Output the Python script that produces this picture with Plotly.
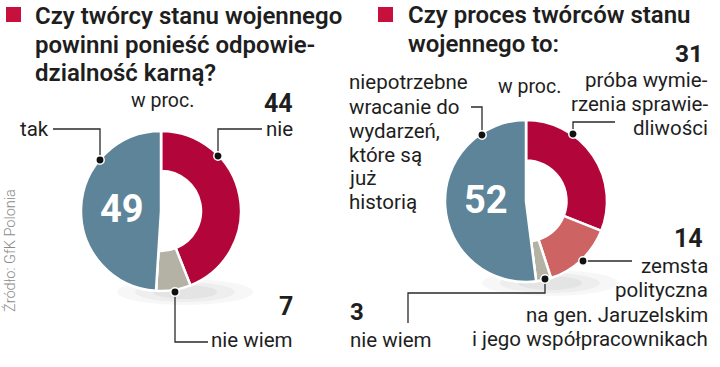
import plotly.graph_objects as go

W, H = 720, 367

# ---- data ----
q1_labels = ["nie", "nie wiem", "tak"]
q1_values = [44, 7, 49]
q2_labels = ["próba wymierzenia sprawiedliwości",
             "zemsta polityczna na gen. Jaruzelskim i jego współpracownikach",
             "nie wiem",
             "niepotrzebne wracanie do wydarzeń, które są już historią"]
q2_values = [31, 14, 3, 52]
q1_title = ["Czy twórcy stanu wojennego", "powinni ponieść odpowie-", "dzialność karną?"]
q2_title = ["Czy proces twórców stanu", "wojennego to:"]
unit = "w proc."
source = "Źródło: GfK Polonia"

RED, LRED, GRAY, BLUE = "#B2063A", "#CE6364", "#B4B1A5", "#5E8499"
TXT = "#1e1e1e"
q1_colors = [RED, GRAY, BLUE]
q2_colors = [RED, LRED, GRAY, BLUE]


def px(x):
    return x / W


def py(y):
    return 1 - y / H


def dom(x0, x1, y0, y1):
    return dict(x=[px(x0), px(x1)], y=[py(y1), py(y0)])


fig = go.Figure()


def add_donut(labels, values, colors, d):
    fig.add_trace(go.Pie(labels=labels, values=values, hole=0.5, sort=False,
                         direction="clockwise", rotation=0, textinfo="none",
                         marker=dict(colors=colors, line=dict(color="white", width=2.5)),
                         domain=d, showlegend=False, hoverinfo="label+value"))
    # full (hole-less) overlay for the last slice
    rest = sum(values[:-1])
    fig.add_trace(go.Pie(labels=["_rest", labels[-1]], values=[rest, values[-1]], sort=False,
                         direction="clockwise", rotation=0, textinfo="none",
                         marker=dict(colors=["rgba(0,0,0,0)", colors[-1]],
                                     line=dict(color="white", width=[0, 2.5])),
                         domain=d, showlegend=False, hoverinfo="skip"))


add_donut(q1_labels, q1_values, q1_colors, dom(81, 241, 131, 291))
add_donut(q2_labels, q2_values, q2_colors, dom(445, 607, 120, 282))

ann = []
shapes = []
LBL = 20.5


def text(x, y, s, size=LBL, weight=400, color=TXT, anchor="left", angle=0, family="Roboto"):
    ann.append(dict(x=px(x), y=py(y), xref="paper", yref="paper", text=s, showarrow=False,
                    xanchor=anchor, yanchor="middle", textangle=angle,
                    align=anchor if anchor != "center" else "center",
                    font=dict(family=family, size=size, color=color, weight=weight)))


def lines(x, ys, texts, anchor, size=LBL):
    for yy, t in zip(ys, texts):
        text(x, yy, t, size=size, anchor=anchor)


def block(x, ymid, texts, size, spacing, weight=600):
    # multi-line text with tight leading: line advance = 1.3 * base size
    base = spacing / 1.3
    s = "<br>".join(f"<span style='font-size:{size}px'>{t}</span>" for t in texts)
    text(x, ymid, s, size=base, weight=weight, anchor="left")


def leader(pts):
    d = "M " + " L ".join(f"{px(a)} {py(b)}" for a, b in pts)
    shapes.append(dict(type="path", path=d, xref="paper", yref="paper",
                       line=dict(color="#2a2a2a", width=1.3)))
    dx, dy = pts[-1]
    r = 4.2
    shapes.append(dict(type="circle", xref="paper", yref="paper",
                       x0=px(dx - r), x1=px(dx + r), y0=py(dy + r), y1=py(dy - r),
                       fillcolor="#111111", line=dict(color="white", width=1.5)))


def square(x0, y0):
    shapes.append(dict(type="rect", xref="paper", yref="paper",
                       x0=px(x0), x1=px(x0 + 15), y0=py(y0 + 15), y1=py(y0),
                       fillcolor="#C8103E", line=dict(width=0)))


# soft shadows under donuts
for cx, cy in [(185, 292), (550, 283)]:
    for i, a in enumerate([0.03, 0.035, 0.04]):
        rx, ry = 68 - i * 18, 13 - i * 3
        shapes.append(dict(type="circle", xref="paper", yref="paper", layer="below",
                           x0=px(cx - rx), x1=px(cx + rx), y0=py(cy + ry), y1=py(cy - ry),
                           fillcolor=f"rgba(0,0,0,{a})", line=dict(width=0)))

TS = 24
SP = 28.5
# ---- chart 1 ----
square(6, 7)
block(33, 44, q1_title, TS, SP)
text(162, 100, unit, size=19.5, anchor="center")
text(295, 103, str(q1_values[0]), size=25, weight=700, anchor="right")
text(295, 129, q1_labels[0], anchor="right")
text(18, 129, q1_labels[2], anchor="left")
text(295, 306, str(q1_values[1]), size=25, weight=700, anchor="right")
text(295, 340, q1_labels[1], anchor="right")
text(122, 209, str(q1_values[2]), size=38, weight=700, color="white", anchor="center")
text(10, 251, source, size=14.5, weight=300, color="#8a8a8a",
     anchor="center", angle=-90)
leader([(53, 129), (100, 129), (100, 160)])
leader([(262, 129), (218, 129), (218, 156)])
leader([(208, 342), (175, 342), (175, 292)])

# ---- chart 2 ----
square(378, 7)
block(406, 30, q2_title, TS, SP)
text(529, 86, unit, size=19.5, anchor="center")
text(705, 54, str(q2_values[0]), size=24.5, weight=700, anchor="right")
lines(710, [80, 104, 128], ["próba wymie-", "rzenia sprawie-", "dliwości"], "right")
lines(347, [82, 107, 131, 155, 178, 202],
      ["niepotrzebne", "wracanie do", "wydarzeń,", "które są", "już", "historią"], "left")
text(486, 200, str(q2_values[3]), size=38, weight=700, color="white", anchor="center")
text(705, 238, str(q2_values[1]), size=25, weight=700, anchor="right")
lines(710, [266, 290, 315, 339],
      ["zemsta", "polityczna", "na gen. Jaruzelskim", "i jego współpracownikach"], "right")
text(348, 312, str(q2_values[2]), size=24, weight=700, anchor="left")
text(348, 340, q2_labels[2], anchor="left")
leader([(471, 107), (482, 107), (482, 135)])
leader([(615, 122), (573, 122), (573, 134)])
leader([(632, 261), (583, 261)])
leader([(408, 323), (408, 293), (545, 293), (545, 279)])

fig.update_layout(width=W, height=H, margin=dict(l=0, r=0, t=0, b=0),
                  paper_bgcolor="white", plot_bgcolor="white",
                  annotations=ann, shapes=shapes)
fig.write_html("out.html", config={"displayModeBar": False},
               post_script="document.body.style.margin='0';document.body.style.overflow='hidden';")
